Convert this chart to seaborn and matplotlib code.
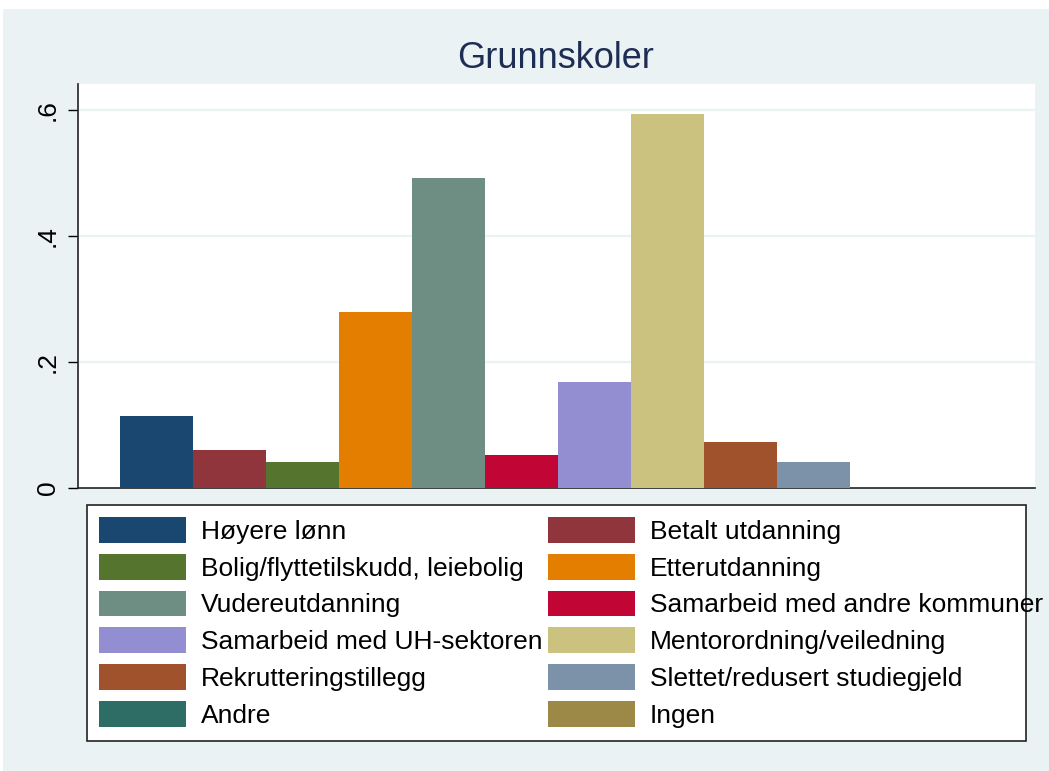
import matplotlib
matplotlib.use('Agg')
import matplotlib.pyplot as plt
import matplotlib.patches as mpatches
import seaborn as sns
import pandas as pd

# data
categories = ['Høyere lønn', 'Betalt utdanning', 'Bolig/flyttetilskudd, leiebolig',
              'Etterutdanning', 'Vudereutdanning', 'Samarbeid med andre kommuner',
              'Samarbeid med UH-sektoren', 'Mentorordning/veiledning',
              'Rekrutteringstillegg', 'Slettet/redusert studiegjeld', 'Andre', 'Ingen']
shares = [0.114, 0.060, 0.041, 0.279, 0.492, 0.052, 0.168, 0.594, 0.073, 0.042, 0.0, 0.0]
colors = ['#1a476f', '#90353b', '#55752f', '#e37e00', '#6e8e84', '#c10534',
          '#938dd2', '#cac27e', '#a0522d', '#7b92a8', '#2d6d66', '#9c8847']
yticks = [0, 0.2, 0.4, 0.6]
ytick_labels = ['0', '.2', '.4', '.6']

df = pd.DataFrame({'kategori': categories, 'andel': shares})

sns.set_style('white')
plt.rcParams['font.family'] = ['Liberation Sans', 'DejaVu Sans']
plt.rcParams['text.color'] = 'black'
plt.rcParams['ytick.labelcolor'] = 'black'

W, H = 1049, 771
fig = plt.figure(figsize=(W / 100, H / 100), dpi=100, facecolor='white')
bg = '#eaf2f3'
fig.patches.append(mpatches.Rectangle((3 / W, 0), 1 - 3 / W, 1 - 9 / H,
                                      transform=fig.transFigure, facecolor=bg,
                                      edgecolor='none', zorder=-10))

ax = fig.add_axes([78 / W, 1 - 488 / H, (1035 - 78) / W, (488 - 84) / H])
ax.set_facecolor('white')

sns.barplot(data=df, x='kategori', y='andel', hue='kategori', palette=colors,
            order=categories, hue_order=categories, width=1, saturation=1,
            legend=False, ax=ax, edgecolor='none', zorder=3)

ax.set_xlim(-0.5 - 42 / 73, 11.5 + 39 / 73)
ax.set_ylim(0, 0.6 + 26 / 630)
ax.set_yticks(yticks)
ax.set_yticklabels(ytick_labels, rotation=90, va='center', fontsize=19, color='black')
ax.set_xticks([])
ax.set_xlabel('')
ax.set_ylabel('')
ax.tick_params(axis='y', direction='out', length=7, width=1, color='black', pad=6, left=True)
for y in yticks[1:]:
    ax.axhline(y, color=bg, lw=1.6, zorder=1)
for s in ['top', 'right']:
    ax.spines[s].set_visible(False)
for s in ['left', 'bottom']:
    ax.spines[s].set_color('#222222')
    ax.spines[s].set_linewidth(1.2)

fig.text(0.53, 1 - 59 / H, 'Grunnskoler', ha='center', va='center',
         fontsize=26, color='#1e2d53')

# legend box drawn by hand, entries filled row by row like the original
fig.patches.append(mpatches.Rectangle((87 / W, 1 - 741 / H), (1026 - 87) / W, (741 - 505) / H,
                                      transform=fig.transFigure, facecolor='white',
                                      edgecolor='#222222', lw=1.2, zorder=1))
handles = [mpatches.Patch(facecolor=c, edgecolor='none') for c in colors]
order = list(range(0, 12, 2)) + list(range(1, 12, 2))
leg = fig.legend([handles[i] for i in order], [categories[i] for i in order],
                 ncol=2, loc='upper left', bbox_to_anchor=(99 / W, 1 - 517 / H),
                 fontsize=19, frameon=False, labelcolor='black',
                 handlelength=3.3, handleheight=1.12, handletextpad=0.57,
                 labelspacing=0.38, borderpad=0, columnspacing=0.2,
                 borderaxespad=0)
leg.set_zorder(5)

fig.savefig('out.png', dpi=100, facecolor='white')
